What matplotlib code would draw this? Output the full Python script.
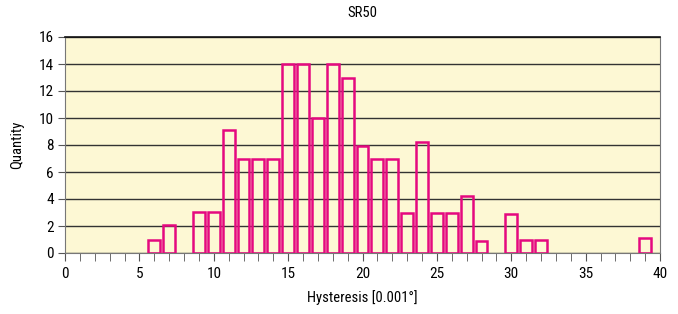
import matplotlib
matplotlib.use("Agg")
import matplotlib.pyplot as plt
from matplotlib import font_manager
from matplotlib.ticker import MultipleLocator

names = {f.name for f in font_manager.fontManager.ttflist}
fam = 'DejaVu Sans'
for cand in ['Liberation Sans Narrow', 'Nimbus Sans Narrow', 'Roboto Condensed', 'PT Sans Narrow',
             'Archivo Narrow', 'Open Sans Condensed', 'Barlow Condensed']:
    if cand in names:
        fam = cand
        break
plt.rcParams['font.family'] = [fam, 'DejaVu Sans']

hysteresis = [6, 7, 9, 10, 11, 12, 13, 14, 15, 16, 17, 18, 19, 20, 21, 22, 23, 24, 25, 26, 27, 28, 30, 31, 32, 39]
quantity = [1, 2.05, 3.05, 3.05, 9.1, 6.95, 6.95, 6.95, 14, 14, 10, 14, 13, 7.95, 6.95, 6.95, 2.95, 8.25, 2.95, 2.95, 4.25, 0.9, 2.9, 0.95, 0.95, 1.1]
x_ticks = [0, 5, 10, 15, 20, 25, 30, 35, 40]
y_ticks = [0, 2, 4, 6, 8, 10, 12, 14, 16]

fig = plt.figure(figsize=(6.78, 3.14), dpi=100)
ax = fig.add_axes([65/678, 61/314, 595/678, 216/314])
ax.set_facecolor('#fdf8d4')
ax.bar(hysteresis, quantity, width=0.8, facecolor='none', edgecolor='#e5097f', linewidth=1.8, zorder=3)
ax.set_xlim(0, 40)
ax.set_ylim(0, 16)
ax.set_xticks(x_ticks)
ax.xaxis.set_minor_locator(MultipleLocator(1))
ax.set_yticks(y_ticks)
ax.yaxis.grid(True, color='#333333', linewidth=1.0, zorder=1)
ax.set_axisbelow(True)
ax.tick_params(axis='both', which='both', direction='out', color='#555555', labelsize=11)
ax.tick_params(axis='x', which='both', length=6, pad=4)
ax.tick_params(axis='y', length=5, pad=3)
for s in ['left', 'bottom', 'right']:
    ax.spines[s].set_color('#777777')
ax.spines['top'].set_color('#111111')
ax.spines['top'].set_linewidth(1.2)
fig.text(362/678, 1 - 13/314, 'SR50', ha='center', va='center', fontsize=10.5)
fig.text(362/678, 1 - 298/314, 'Hysteresis [0.001°]', ha='center', va='center', fontsize=10.5)
fig.text(17/678, 1 - 145/314, 'Quantity', ha='center', va='center', rotation=90, fontsize=10.5)
fig.savefig('out.png', dpi=100)
